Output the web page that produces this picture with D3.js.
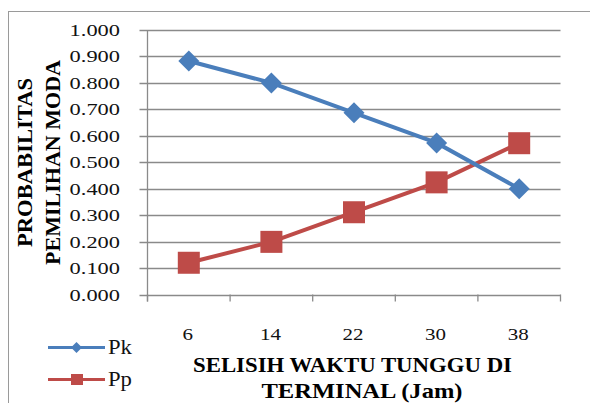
<!DOCTYPE html>
<html>
<head>
<meta charset="utf-8">
<script src="https://cdn.jsdelivr.net/npm/d3@7"></script>
<style>
  html, body { margin: 0; padding: 0; background: #fff; }
  svg { display: block; }
</style>
</head>
<body>
<div id="chart"></div>
<script>
// chart data
const categories = [6, 14, 22, 30, 38];
const pk = [0.883, 0.800, 0.687, 0.573, 0.400];
const pp = [0.120, 0.199, 0.311, 0.424, 0.572];
const seriesNames = ['Pk', 'Pp'];
const yTitle = ['PROBABILITAS', 'PEMILIHAN MODA'];
const xTitle = ['SELISIH WAKTU TUNGGU DI', 'TERMINAL (Jam)'];

(function(){
  const W = 590, H = 403;
  const plot = { left: 147.5, right: 560.5, top: 30, bottom: 294.5 };

  const svg = d3.select('#chart').append('svg')
    .attr('width', W).attr('height', H);

  const blue = '#4a7ebb', red = '#be4b48', grid = '#8a8a8a';

  // outer chart border (runs off right and bottom edge)
  svg.append('rect')
    .attr('x', 8.5).attr('y', 11.5)
    .attr('width', W + 10).attr('height', H + 10)
    .attr('fill', 'none').attr('stroke', '#9a9a9a').attr('stroke-width', 1);

  const x = d3.scaleBand().domain(categories).range([plot.left, plot.right]);
  const cx = d => x(d) + x.bandwidth() / 2;
  const y = d3.scaleLinear().domain([0, 1]).range([plot.bottom, plot.top]);
  const yTicks = y.ticks(10);
  const fmt = d3.format('.3f');

  // horizontal gridlines + left ticks
  svg.append('g').selectAll('line')
    .data(yTicks).join('line')
      .attr('x1', plot.left - 8).attr('x2', plot.right)
      .attr('y1', d => Math.round(y(d)) + 0.5).attr('y2', d => Math.round(y(d)) + 0.5)
      .attr('stroke', grid).attr('stroke-width', 1.3);

  // y axis line
  svg.append('line')
    .attr('x1', plot.left).attr('x2', plot.left)
    .attr('y1', plot.top).attr('y2', plot.bottom + 7)
    .attr('stroke', grid).attr('stroke-width', 1.3);

  // x tick marks at band edges
  const edges = categories.map(d => x(d)).concat([plot.right]);
  svg.append('g').selectAll('line')
    .data(edges).join('line')
      .attr('x1', d => d).attr('x2', d => d)
      .attr('y1', plot.bottom).attr('y2', plot.bottom + 7)
      .attr('stroke', grid).attr('stroke-width', 1.3);

  // stretched text helper (the source image is widened horizontally)
  function stretch(sel, k) {
    sel.each(function(){
      const len = this.getComputedTextLength();
      d3.select(this).attr('textLength', len * k).attr('lengthAdjust', 'spacingAndGlyphs');
    });
  }

  // y tick labels
  svg.append('g').selectAll('text')
    .data(yTicks).join('text')
      .attr('x', 120).attr('y', d => y(d) + 6)
      .attr('text-anchor', 'end')
      .attr('font-family', 'Liberation Serif, serif')
      .attr('font-size', 17.5)
      .attr('fill', '#111')
      .text(d => fmt(d))
      .call(stretch, 1.28);

  // x tick labels
  svg.append('g').selectAll('text')
    .data(categories).join('text')
      .attr('x', d => cx(d) - 1).attr('y', 340)
      .attr('text-anchor', 'middle')
      .attr('font-family', 'Liberation Serif, serif')
      .attr('font-size', 17.5)
      .attr('fill', '#111')
      .text(d => d)
      .call(stretch, 1.2);

  // y axis title (two rotated lines)
  const yt = svg.append('g')
    .attr('font-family', 'Liberation Serif, serif')
    .attr('font-weight', 'bold')
    .attr('font-size', 22)
    .attr('text-anchor', 'middle');
  yt.append('text')
    .attr('transform', 'translate(32,162.5) rotate(-90)')
    .attr('textLength', 169).attr('lengthAdjust', 'spacingAndGlyphs')
    .text(yTitle[0]);
  yt.append('text')
    .attr('transform', 'translate(60,162.5) rotate(-90)')
    .attr('textLength', 205).attr('lengthAdjust', 'spacingAndGlyphs')
    .text(yTitle[1]);

  // x axis title
  const xt = svg.append('g')
    .attr('font-family', 'Liberation Serif, serif')
    .attr('font-weight', 'bold')
    .attr('font-size', 22)
    .attr('text-anchor', 'middle');
  xt.append('text')
    .attr('x', 352.5).attr('y', 372)
    .attr('textLength', 319).attr('lengthAdjust', 'spacingAndGlyphs')
    .text(xTitle[0]);
  xt.append('text')
    .attr('x', 362).attr('y', 398)
    .attr('textLength', 201).attr('lengthAdjust', 'spacingAndGlyphs')
    .text(xTitle[1]);

  // series
  const line = d3.line().x((d, i) => cx(categories[i])).y(d => y(d));

  svg.append('path').datum(pp)
    .attr('d', line).attr('fill', 'none')
    .attr('stroke', red).attr('stroke-width', 4);
  svg.append('g').selectAll('rect')
    .data(pp).join('rect')
      .attr('x', (d, i) => cx(categories[i]) - 11)
      .attr('y', d => y(d) - 11)
      .attr('width', 22).attr('height', 22)
      .attr('fill', red);

  svg.append('path').datum(pk)
    .attr('d', line).attr('fill', 'none')
    .attr('stroke', blue).attr('stroke-width', 4);
  const diamond = (px, py, r) => `M${px},${py - r}L${px + r},${py}L${px},${py + r}L${px - r},${py}Z`;
  svg.append('g').selectAll('path')
    .data(pk).join('path')
      .attr('d', (d, i) => diamond(cx(categories[i]), y(d), 10.5))
      .attr('fill', blue);

  // legend
  const legend = svg.append('g');
  const legendRows = [
    { name: seriesNames[0], color: blue, y: 347.5, marker: 'diamond' },
    { name: seriesNames[1], color: red, y: 379.5, marker: 'square' }
  ];
  legendRows.forEach(r => {
    legend.append('line')
      .attr('x1', 48).attr('x2', 105).attr('y1', r.y).attr('y2', r.y)
      .attr('stroke', r.color).attr('stroke-width', 3);
    if (r.marker === 'diamond') {
      legend.append('path').attr('d', diamond(76.5, r.y, 5.5)).attr('fill', r.color);
    } else {
      legend.append('rect').attr('x', 71).attr('y', r.y - 5.5)
        .attr('width', 12).attr('height', 11).attr('fill', r.color);
    }
    legend.append('text')
      .attr('x', 108).attr('y', r.y + 6)
      .attr('font-family', 'Liberation Serif, serif')
      .attr('font-size', 21)
      .attr('fill', '#111')
      .text(r.name)
      .call(stretch, 1.08);
  });
})();
</script>
</body>
</html>
